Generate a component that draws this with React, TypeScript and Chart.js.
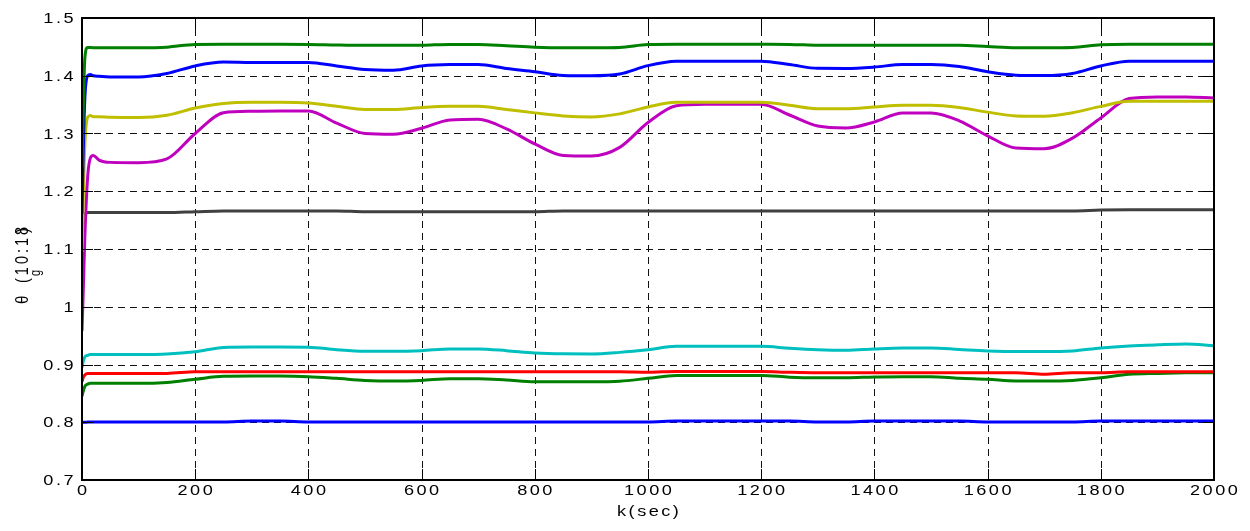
import React, { useEffect, useRef } from "react";
import { Chart, registerables } from "chart.js";
Chart.register(...registerables);

// sample positions k (sec)
const K = [0, 2, 5, 10, 15, 20, 30, 50,
  100, 150, 200, 250, 300, 350, 400, 450, 500, 550,
  600, 650, 700, 750, 800, 850, 900, 950, 1000, 1050,
  1100, 1150, 1200, 1250, 1300, 1350, 1400, 1450, 1500, 1550,
  1600, 1650, 1700, 1750, 1800, 1850, 1900, 1950, 2000];

const THETA_10 = [1.242, 1.33, 1.43, 1.449, 1.4488, 1.4487, 1.4486, 1.4485,
  1.4485, 1.4495, 1.4543, 1.4545, 1.4545, 1.4545, 1.4543, 1.4532, 1.4526, 1.4526,
  1.4528, 1.4543, 1.4543, 1.452, 1.4495, 1.4485, 1.4485, 1.449, 1.454, 1.4545,
  1.4545, 1.4545, 1.4545, 1.4543, 1.4528, 1.4526, 1.4526, 1.4528, 1.4528, 1.4528,
  1.4505, 1.4485, 1.4485, 1.449, 1.4535, 1.4545, 1.4545, 1.4545, 1.4545];

const THETA_11 = [1.161, 1.26, 1.36, 1.40, 1.402, 1.400, 1.399, 1.398,
  1.398, 1.404, 1.417, 1.4236, 1.423, 1.423, 1.423, 1.417, 1.411, 1.4097,
  1.417, 1.4194, 1.4196, 1.4126, 1.407, 1.4005, 1.400, 1.403, 1.4175, 1.425,
  1.4253, 1.4253, 1.4253, 1.4195, 1.4128, 1.4126, 1.415, 1.4196, 1.4196, 1.416,
  1.4068, 1.401, 1.4005, 1.404, 1.417, 1.4253, 1.4253, 1.4253, 1.4253];

const THETA_12 = [1.095, 1.18, 1.28, 1.328, 1.331, 1.329, 1.329, 1.328,
  1.3276, 1.3315, 1.344, 1.352, 1.354, 1.354, 1.353, 1.347, 1.3415, 1.3415,
  1.345, 1.347, 1.3472, 1.3415, 1.3357, 1.3305, 1.3287, 1.334, 1.346, 1.3542,
  1.3542, 1.3542, 1.3542, 1.349, 1.343, 1.343, 1.346, 1.349, 1.349, 1.345,
  1.337, 1.3305, 1.330, 1.336, 1.347, 1.356, 1.356, 1.356, 1.356];

const THETA_13 = [0.958, 1.02, 1.12, 1.225, 1.258, 1.262, 1.254, 1.250,
  1.2495, 1.256, 1.30, 1.336, 1.3385, 1.339, 1.339, 1.318, 1.30, 1.2986,
  1.309, 1.3235, 1.3247, 1.308, 1.282, 1.262, 1.261, 1.276, 1.319, 1.348,
  1.3507, 1.3507, 1.3507, 1.332, 1.313, 1.3096, 1.32, 1.3356, 1.3356, 1.322,
  1.296, 1.275, 1.2738, 1.292, 1.327, 1.3605, 1.3634, 1.3634, 1.3616];

const THETA_14 = [1.149, 1.155, 1.160, 1.163, 1.163, 1.163, 1.163, 1.163,
  1.163, 1.163, 1.1645, 1.166, 1.166, 1.166, 1.166, 1.166, 1.1645, 1.1645,
  1.1645, 1.1645, 1.1645, 1.1645, 1.1645, 1.166, 1.166, 1.166, 1.166, 1.166,
  1.166, 1.166, 1.166, 1.166, 1.166, 1.166, 1.166, 1.166, 1.166, 1.166,
  1.166, 1.166, 1.166, 1.166, 1.1675, 1.168, 1.168, 1.168, 1.168];

const THETA_15 = [0.895, 0.905, 0.913, 0.916, 0.9171, 0.9171, 0.9171, 0.9171,
  0.9171, 0.918, 0.922, 0.9295, 0.9303, 0.9303, 0.930, 0.9255, 0.9229, 0.9229,
  0.924, 0.9269, 0.9269, 0.924, 0.920, 0.9185, 0.9183, 0.921, 0.9255, 0.9314,
  0.9314, 0.9314, 0.9314, 0.928, 0.9255, 0.9246, 0.927, 0.9286, 0.9286, 0.926,
  0.9235, 0.9223, 0.9223, 0.9235, 0.9286, 0.932, 0.934, 0.9354, 0.9326];

const THETA_16 = [0.870, 0.877, 0.882, 0.8846, 0.8846, 0.8846, 0.8846, 0.8846,
  0.8846, 0.8846, 0.8874, 0.8874, 0.8874, 0.8874, 0.8874, 0.8874, 0.8874, 0.8874,
  0.8874, 0.8874, 0.8874, 0.8874, 0.8874, 0.8874, 0.8874, 0.8874, 0.8865, 0.888,
  0.888, 0.888, 0.888, 0.8865, 0.8857, 0.8857, 0.8857, 0.8857, 0.8857, 0.8857,
  0.8857, 0.8857, 0.883, 0.8857, 0.8857, 0.8874, 0.8874, 0.8874, 0.8874];

const THETA_17 = [0.845, 0.853, 0.862, 0.866, 0.8674, 0.8674, 0.8674, 0.8674,
  0.8674, 0.869, 0.8745, 0.8795, 0.880, 0.880, 0.879, 0.876, 0.8725, 0.8714,
  0.8725, 0.8754, 0.8754, 0.873, 0.870, 0.870, 0.870, 0.871, 0.876, 0.8811,
  0.8811, 0.8811, 0.8811, 0.878, 0.877, 0.877, 0.8785, 0.8789, 0.8789, 0.876,
  0.8743, 0.8714, 0.8714, 0.8725, 0.877, 0.883, 0.8846, 0.8855, 0.8857];

const THETA_18 = [0.8, 0.8, 0.8, 0.8003, 0.8003, 0.8003, 0.8003, 0.8003,
  0.8003, 0.8003, 0.8003, 0.8003, 0.802, 0.802, 0.8003, 0.8003, 0.8003, 0.8003,
  0.8003, 0.8003, 0.8003, 0.8003, 0.8003, 0.8003, 0.8003, 0.8003, 0.8003, 0.802,
  0.802, 0.802, 0.802, 0.802, 0.8003, 0.8003, 0.802, 0.802, 0.802, 0.802,
  0.8003, 0.8003, 0.8003, 0.8003, 0.802, 0.802, 0.802, 0.802, 0.802];

const SERIES_NAMES = ["θg10", "θg11", "θg12", "θg13", "θg14", "θg15", "θg16", "θg17", "θg18"];
const SERIES_VALUES = [THETA_10, THETA_11, THETA_12, THETA_13, THETA_14, THETA_15, THETA_16, THETA_17, THETA_18];
const SERIES_COLORS = ["#008000", "#0000FF", "#BFBF00", "#BF00BF", "#404040", "#00BFBF", "#FF0000", "#008000", "#0000FF"];

const X_TICKS = [0, 200, 400, 600, 800, 1000, 1200, 1400, 1600, 1800, 2000];
const X_TICK_LABELS = ["0", "200", "400", "600", "800", "1000", "1200", "1400", "1600", "1800", "2000"];
const Y_TICKS = [0.7, 0.8, 0.9, 1.0, 1.1, 1.2, 1.3, 1.4, 1.5];
const Y_TICK_LABELS = ["0.7", "0.8", "0.9", "1", "1.1", "1.2", "1.3", "1.4", "1.5"];
const X_TITLE = "k(sec)";
const Y_TITLE_SYMBOL = "θ";
const Y_TITLE_SUB = "g";
const Y_TITLE_REST = "(10:18";
const Y_TITLE_CLOSE = ")";

const FONT = '"Liberation Sans", Arial, sans-serif';
const STRETCH = 1.25;

const matlabAxes = {
  id: "matlabAxes",
  beforeDatasetsDraw(chart: any) {
    const { ctx, chartArea: a, scales } = chart;
    const xs = scales.x, ys = scales.y;
    ctx.save();
    ctx.strokeStyle = "#111";
    ctx.lineWidth = 1;
    ctx.setLineDash([7, 5]);
    ctx.beginPath();
    X_TICKS.forEach((v) => {
      const p = Math.round(xs.getPixelForValue(v)) + 0.5;
      ctx.moveTo(p, a.bottom);
      ctx.lineTo(p, a.top);
    });
    Y_TICKS.forEach((v) => {
      const p = Math.round(ys.getPixelForValue(v)) + 0.5;
      ctx.moveTo(a.left, p);
      ctx.lineTo(a.right, p);
    });
    ctx.stroke();
    ctx.restore();
  },
  afterDraw(chart: any) {
    const { ctx, chartArea: a, scales } = chart;
    const xs = scales.x, ys = scales.y;
    ctx.save();
    ctx.setLineDash([]);
    ctx.strokeStyle = "#000";
    ctx.lineWidth = 1;
    ctx.beginPath();
    X_TICKS.forEach((v) => {
      const p = Math.round(xs.getPixelForValue(v)) + 0.5;
      ctx.moveTo(p, a.bottom); ctx.lineTo(p, a.bottom - 11);
      ctx.moveTo(p, a.top); ctx.lineTo(p, a.top + 11);
    });
    Y_TICKS.forEach((v) => {
      const p = Math.round(ys.getPixelForValue(v)) + 0.5;
      ctx.moveTo(a.left, p); ctx.lineTo(a.left + 11, p);
      ctx.moveTo(a.right, p); ctx.lineTo(a.right - 11, p);
    });
    ctx.stroke();
    ctx.lineWidth = 2;
    ctx.strokeRect(Math.round(a.left), Math.round(a.top), Math.round(a.right - a.left), Math.round(a.bottom - a.top));

    ctx.fillStyle = "#000";
    ctx.font = "14.5px " + FONT;
    (ctx as any).letterSpacing = "2px";
    ctx.textBaseline = "alphabetic";

    ctx.textAlign = "center";
    X_TICKS.forEach((v, i) => {
      const p = xs.getPixelForValue(v);
      ctx.save();
      ctx.translate(p + 1.2, 494.5);
      ctx.scale(STRETCH, 1);
      ctx.fillText(X_TICK_LABELS[i], 0, 0);
      ctx.restore();
    });
    ctx.save();
    ctx.translate((a.left + a.right) / 2 + 1.2, 515.5);
    ctx.scale(STRETCH, 1);
    ctx.fillText(X_TITLE, 0, 0);
    ctx.restore();

    ctx.textAlign = "right";
    Y_TICKS.forEach((v, i) => {
      const p = ys.getPixelForValue(v);
      ctx.save();
      ctx.translate(76, p + 5);
      ctx.scale(STRETCH, 1);
      ctx.fillText(Y_TICK_LABELS[i], 0, 0);
      ctx.restore();
    });

    // rotated y title
    ctx.save();
    ctx.translate(27.5, 304);
    ctx.rotate(-Math.PI / 2);
    ctx.scale(1, STRETCH);
    ctx.textAlign = "left";
    (ctx as any).letterSpacing = "3px";
    ctx.font = "15px " + FONT;
    ctx.fillText(Y_TITLE_SYMBOL, 0, 0);
    ctx.font = "14.5px " + FONT;
    ctx.fillText(Y_TITLE_REST, 21, 0);
    const w = ctx.measureText(Y_TITLE_REST.slice(0, -1)).width;
    ctx.fillText(Y_TITLE_CLOSE, 21 + w + 2, 0);
    ctx.font = "11px " + FONT;
    (ctx as any).letterSpacing = "0px";
    ctx.fillText(Y_TITLE_SUB, 28, 10);
    ctx.restore();

    ctx.restore();
  },
};

export default function App() {
  const ref = useRef<HTMLCanvasElement | null>(null);
  useEffect(() => {
    document.body.style.margin = "0";
    const canvas = ref.current;
    if (!canvas) return;
    const datasets = SERIES_VALUES.map((vals, s) => ({
      label: SERIES_NAMES[s],
      data: K.map((k, i) => ({ x: k, y: vals[i] })),
      borderColor: SERIES_COLORS[s],
      backgroundColor: SERIES_COLORS[s],
      borderWidth: 3,
      pointRadius: 0,
      fill: false,
      cubicInterpolationMode: "monotone" as const,
    }));
    const chart = new Chart(canvas, {
      type: "line",
      data: { datasets },
      options: {
        animation: false,
        responsive: false,
        devicePixelRatio: 1,
        layout: { padding: { left: 82, right: 36, top: 18, bottom: 51 } },
        plugins: { legend: { display: false }, tooltip: { enabled: false } },
        scales: {
          x: {
            type: "linear",
            min: 0,
            max: 2000,
            grid: { display: false, drawTicks: false },
            border: { display: false },
            ticks: { display: false },
            afterFit: (s: any) => { s.height = 0; },
          },
          y: {
            type: "linear",
            min: 0.7,
            max: 1.5,
            grid: { display: false, drawTicks: false },
            border: { display: false },
            ticks: { display: false },
            afterFit: (s: any) => { s.width = 0; },
          },
        },
      },
      plugins: [matlabAxes],
    });
    return () => chart.destroy();
  }, []);
  return (
    <div style={{ width: 1250, height: 531, background: "#fff" }}>
      <canvas ref={ref} width={1250} height={531} style={{ display: "block" }} />
    </div>
  );
}
